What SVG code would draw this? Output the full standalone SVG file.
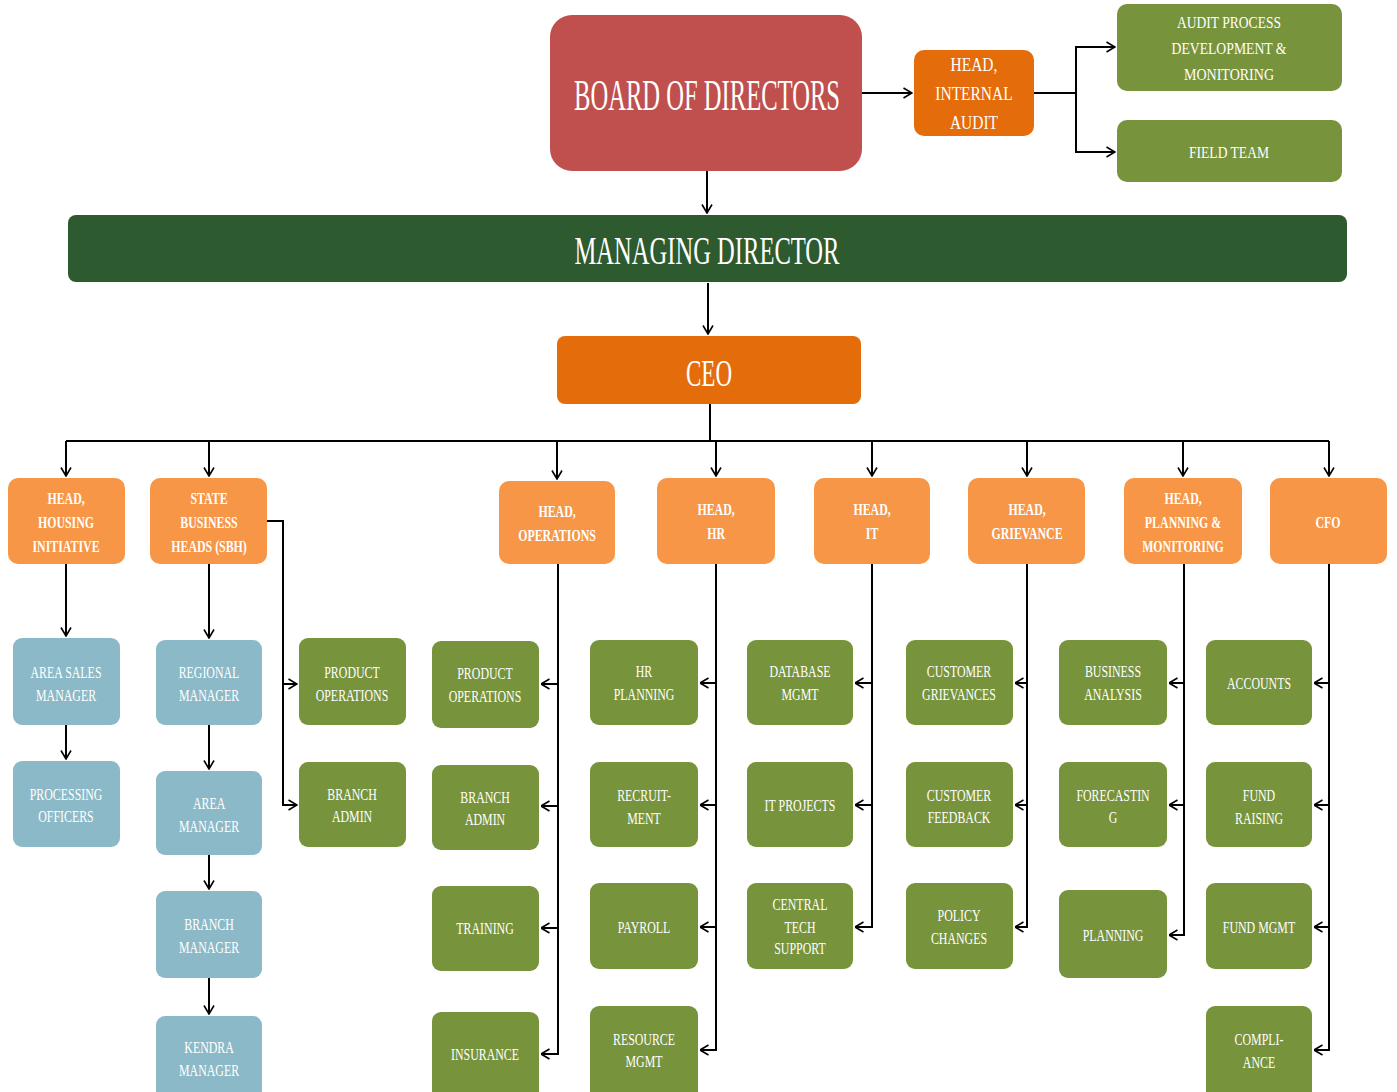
<svg xmlns="http://www.w3.org/2000/svg" width="1397" height="1092" viewBox="0 0 1397 1092">
<defs>
<marker id="arr" viewBox="0 0 10 12" refX="9.5" refY="6" markerWidth="10" markerHeight="12" markerUnits="userSpaceOnUse" orient="auto">
<path d="M1,1 L9.5,6 L1,11" fill="none" stroke="#000" stroke-width="1.6"/>
</marker>
</defs>
<style>
text{font-family:"Liberation Serif","DejaVu Serif",serif;fill:#fff;text-anchor:middle;dominant-baseline:central}
.board{fill:#C0504D}
.dorange{fill:#E46C0A}
.head{fill:#F79646}
.green{fill:#77933C}
.blue{fill:#8BB9C7}
.md{fill:#2E5A2F}
.ia{font-size:18px;transform-box:fill-box;transform-origin:center;transform:scaleX(0.86)}
.ht{font-size:17px;font-weight:bold;transform-box:fill-box;transform-origin:center;transform:scaleX(0.7)}
.st{font-size:17px;transform-box:fill-box;transform-origin:center;transform:scaleX(0.7)}
.at{font-size:17px}
.conn path{fill:none;stroke:#000;stroke-width:2}
.conn .a{marker-end:url(#arr)}
</style>

<g class="conn" id="connectors">
<path class="a" d="M862,93 H912"/>
<path class="a" d="M1034,93 H1076 V47 H1115"/>
<path class="a" d="M1076,93 V152 H1115"/>
<path class="a" d="M707,171 V213"/>
<path class="a" d="M708,283 V334"/>
<path d="M710,404 V441"/>
<path d="M66,441 H1329"/>
<path class="a" d="M66,441 V476"/>
<path class="a" d="M209,441 V476"/>
<path class="a" d="M557,441 V479"/>
<path class="a" d="M716,441 V476"/>
<path class="a" d="M872,441 V476"/>
<path class="a" d="M1027,441 V476"/>
<path class="a" d="M1183,441 V476"/>
<path class="a" d="M1329,441 V476"/>
<path class="a" d="M66,564 V636"/>
<path class="a" d="M66,725 V759"/>
<path class="a" d="M209,564 V638"/>
<path class="a" d="M209,725 V769"/>
<path class="a" d="M209,855 V889"/>
<path class="a" d="M209,978 V1014"/>
<path class="a" d="M267,521 H283 V805 H297"/>
<path class="a" d="M283,684 H297"/>
<path class="a" d="M558,564 V1054 H541"/>
<path class="a" d="M558,684 H541"/>
<path class="a" d="M558,806 H541"/>
<path class="a" d="M558,928 H541"/>
<path class="a" d="M716,564 V1050 H700"/>
<path class="a" d="M716,683 H700"/>
<path class="a" d="M716,805 H700"/>
<path class="a" d="M716,927 H700"/>
<path class="a" d="M872,564 V927 H855"/>
<path class="a" d="M872,683 H855"/>
<path class="a" d="M872,805 H855"/>
<path class="a" d="M1027,564 V927 H1015"/>
<path class="a" d="M1027,683 H1015"/>
<path class="a" d="M1027,805 H1015"/>
<path class="a" d="M1184,564 V935 H1169"/>
<path class="a" d="M1184,683 H1169"/>
<path class="a" d="M1184,805 H1169"/>
<path class="a" d="M1329,564 V1050 H1314"/>
<path class="a" d="M1329,683 H1314"/>
<path class="a" d="M1329,805 H1314"/>
<path class="a" d="M1329,927 H1314"/>
</g>

<g id="board"><rect class="board" x="550" y="15" width="312" height="156" rx="22"/>
<text x="707" y="95" font-size="44" textLength="266" lengthAdjust="spacingAndGlyphs">BOARD OF DIRECTORS</text></g>

<g id="head-internal-audit"><rect class="dorange" x="914" y="50" width="120" height="86" rx="10"/>
<text class="ia"><tspan x="974" y="65">HEAD,</tspan><tspan x="974" y="94">INTERNAL</tspan><tspan x="974" y="123">AUDIT</tspan></text></g>

<g id="audit-process"><rect class="green" x="1117" y="4" width="225" height="87" rx="10"/>
<text class="at" x="1229" y="22" textLength="104" lengthAdjust="spacingAndGlyphs">AUDIT PROCESS</text>
<text class="at" x="1229" y="48" textLength="115" lengthAdjust="spacingAndGlyphs">DEVELOPMENT &amp;</text>
<text class="at" x="1229" y="74" textLength="90" lengthAdjust="spacingAndGlyphs">MONITORING</text></g>

<g id="field-team"><rect class="green" x="1117" y="120" width="225" height="62" rx="10"/>
<text class="at" x="1229" y="152" textLength="80" lengthAdjust="spacingAndGlyphs">FIELD TEAM</text></g>

<g id="managing-director"><rect class="md" x="68" y="215" width="1279" height="67" rx="8"/>
<text x="707" y="250" font-size="40" textLength="265" lengthAdjust="spacingAndGlyphs">MANAGING DIRECTOR</text></g>

<g id="ceo"><rect class="dorange" x="557" y="336" width="304" height="68" rx="8"/>
<text x="709" y="373" font-size="37" textLength="46" lengthAdjust="spacingAndGlyphs">CEO</text></g>

<g id="head-housing"><rect class="head" x="8" y="478" width="117" height="86" rx="10"/>
<text class="ht" x="66" y="498">HEAD,</text><text class="ht" x="66" y="522">HOUSING</text><text class="ht" x="66" y="546">INITIATIVE</text></g>

<g id="state-business-heads"><rect class="head" x="150" y="478" width="117" height="86" rx="10"/>
<text class="ht" x="209" y="498">STATE</text><text class="ht" x="209" y="522">BUSINESS</text><text class="ht" x="209" y="546">HEADS (SBH)</text></g>

<g id="head-operations"><rect class="head" x="499" y="481" width="116" height="83" rx="10"/>
<text class="ht" x="557" y="511">HEAD,</text><text class="ht" x="557" y="535">OPERATIONS</text></g>

<g id="head-hr"><rect class="head" x="657" y="478" width="118" height="86" rx="10"/>
<text class="ht" x="716" y="509">HEAD,</text><text class="ht" x="716" y="533">HR</text></g>

<g id="head-it"><rect class="head" x="814" y="478" width="116" height="86" rx="10"/>
<text class="ht" x="872" y="509">HEAD,</text><text class="ht" x="872" y="533">IT</text></g>

<g id="head-grievance"><rect class="head" x="968" y="478" width="117" height="86" rx="10"/>
<text class="ht" x="1027" y="509">HEAD,</text><text class="ht" x="1027" y="533">GRIEVANCE</text></g>

<g id="head-planning"><rect class="head" x="1124" y="478" width="118" height="86" rx="10"/>
<text class="ht" x="1183" y="498">HEAD,</text><text class="ht" x="1183" y="522">PLANNING &amp;</text><text class="ht" x="1183" y="546">MONITORING</text></g>

<g id="cfo"><rect class="head" x="1270" y="478" width="117" height="86" rx="10"/>
<text class="ht" x="1328" y="522">CFO</text></g>

<g id="area-sales-manager"><rect class="blue" x="13" y="638" width="107" height="87" rx="9"/>
<text class="st" x="66" y="672">AREA SALES</text><text class="st" x="66" y="695">MANAGER</text></g>
<g id="processing-officers"><rect class="blue" x="13" y="761" width="107" height="86" rx="9"/>
<text class="st" x="66" y="794">PROCESSING</text><text class="st" x="66" y="816">OFFICERS</text></g>

<g id="regional-manager"><rect class="blue" x="156" y="640" width="106" height="85" rx="9"/>
<text class="st" x="209" y="672">REGIONAL</text><text class="st" x="209" y="695">MANAGER</text></g>
<g id="area-manager"><rect class="blue" x="156" y="771" width="106" height="84" rx="9"/>
<text class="st" x="209" y="803">AREA</text><text class="st" x="209" y="826">MANAGER</text></g>
<g id="branch-manager"><rect class="blue" x="156" y="891" width="106" height="87" rx="9"/>
<text class="st" x="209" y="924">BRANCH</text><text class="st" x="209" y="947">MANAGER</text></g>
<g id="kendra-manager"><rect class="blue" x="156" y="1016" width="106" height="86" rx="9"/>
<text class="st" x="209" y="1047">KENDRA</text><text class="st" x="209" y="1070">MANAGER</text></g>

<g id="sbh-product-operations"><rect class="green" x="299" y="638" width="107" height="87" rx="9"/>
<text class="st" x="352" y="672">PRODUCT</text><text class="st" x="352" y="695">OPERATIONS</text></g>
<g id="sbh-branch-admin"><rect class="green" x="299" y="762" width="107" height="85" rx="9"/>
<text class="st" x="352" y="794">BRANCH</text><text class="st" x="352" y="816">ADMIN</text></g>

<g id="ops-product-operations"><rect class="green" x="432" y="641" width="107" height="87" rx="9"/>
<text class="st" x="485" y="673">PRODUCT</text><text class="st" x="485" y="696">OPERATIONS</text></g>
<g id="ops-branch-admin"><rect class="green" x="432" y="765" width="107" height="85" rx="9"/>
<text class="st" x="485" y="797">BRANCH</text><text class="st" x="485" y="819">ADMIN</text></g>
<g id="ops-training"><rect class="green" x="432" y="886" width="107" height="85" rx="9"/>
<text class="st" x="485" y="928">TRAINING</text></g>
<g id="ops-insurance"><rect class="green" x="432" y="1012" width="107" height="90" rx="9"/>
<text class="st" x="485" y="1054">INSURANCE</text></g>

<g id="hr-planning"><rect class="green" x="590" y="640" width="108" height="85" rx="9"/>
<text class="st" x="644" y="671">HR</text><text class="st" x="644" y="694">PLANNING</text></g>
<g id="hr-recruitment"><rect class="green" x="590" y="762" width="108" height="85" rx="9"/>
<text class="st" x="644" y="795">RECRUIT-</text><text class="st" x="644" y="818">MENT</text></g>
<g id="hr-payroll"><rect class="green" x="590" y="883" width="108" height="86" rx="9"/>
<text class="st" x="644" y="927">PAYROLL</text></g>
<g id="hr-resource-mgmt"><rect class="green" x="590" y="1006" width="108" height="96" rx="9"/>
<text class="st" x="644" y="1039">RESOURCE</text><text class="st" x="644" y="1061">MGMT</text></g>

<g id="it-database-mgmt"><rect class="green" x="747" y="640" width="106" height="85" rx="9"/>
<text class="st" x="800" y="671">DATABASE</text><text class="st" x="800" y="694">MGMT</text></g>
<g id="it-projects"><rect class="green" x="747" y="762" width="106" height="85" rx="9"/>
<text class="st" x="800" y="805">IT PROJECTS</text></g>
<g id="it-central-tech-support"><rect class="green" x="747" y="883" width="106" height="86" rx="9"/>
<text class="st" x="800" y="904">CENTRAL</text><text class="st" x="800" y="927">TECH</text><text class="st" x="800" y="948">SUPPORT</text></g>

<g id="customer-grievances"><rect class="green" x="906" y="640" width="107" height="85" rx="9"/>
<text class="st" x="959" y="671">CUSTOMER</text><text class="st" x="959" y="694">GRIEVANCES</text></g>
<g id="customer-feedback"><rect class="green" x="906" y="762" width="107" height="85" rx="9"/>
<text class="st" x="959" y="795">CUSTOMER</text><text class="st" x="959" y="817">FEEDBACK</text></g>
<g id="policy-changes"><rect class="green" x="906" y="883" width="107" height="86" rx="9"/>
<text class="st" x="959" y="915">POLICY</text><text class="st" x="959" y="938">CHANGES</text></g>

<g id="business-analysis"><rect class="green" x="1059" y="640" width="108" height="85" rx="9"/>
<text class="st" x="1113" y="671">BUSINESS</text><text class="st" x="1113" y="694">ANALYSIS</text></g>
<g id="forecasting"><rect class="green" x="1059" y="762" width="108" height="85" rx="9"/>
<text class="st" x="1113" y="795">FORECASTIN</text><text class="st" x="1113" y="817">G</text></g>
<g id="planning"><rect class="green" x="1059" y="890" width="108" height="88" rx="9"/>
<text class="st" x="1113" y="935">PLANNING</text></g>

<g id="accounts"><rect class="green" x="1206" y="640" width="106" height="85" rx="9"/>
<text class="st" x="1259" y="683">ACCOUNTS</text></g>
<g id="fund-raising"><rect class="green" x="1206" y="762" width="106" height="85" rx="9"/>
<text class="st" x="1259" y="795">FUND</text><text class="st" x="1259" y="818">RAISING</text></g>
<g id="fund-mgmt"><rect class="green" x="1206" y="883" width="106" height="86" rx="9"/>
<text class="st" x="1259" y="927">FUND MGMT</text></g>
<g id="compliance"><rect class="green" x="1206" y="1006" width="106" height="96" rx="9"/>
<text class="st" x="1259" y="1039">COMPLI-</text><text class="st" x="1259" y="1062">ANCE</text></g>
</svg>
